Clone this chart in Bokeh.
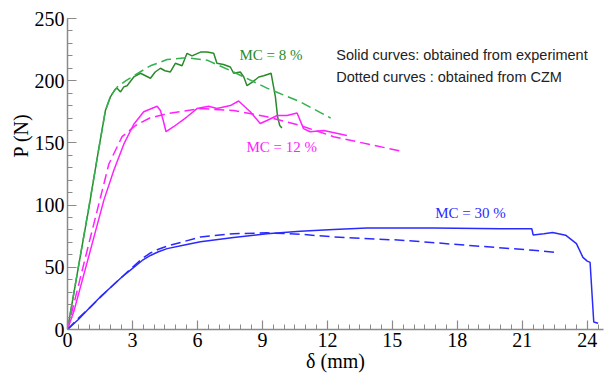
from bokeh.plotting import figure
from bokeh.models import Range1d, Label, FixedTicker, Title
from bokeh.embed import file_html
from bokeh.resources import INLINE

# MC = 8 % experiment (solid) and CZM (dashed)
g_x = [0, 0.5, 1.0, 1.45, 1.75, 1.98, 2.2, 2.29, 2.45, 2.6, 2.75, 3.06, 3.37, 3.6, 3.83, 4.05, 4.29, 4.5, 4.75, 4.98, 5.29, 5.52, 5.75, 6.14, 6.45, 6.75, 6.9, 7.2, 7.52, 7.67, 7.98, 8.14, 8.29, 8.55, 8.83, 9.06, 9.4, 9.6, 9.7, 9.8, 9.9]
g_y = [0, 50, 99, 146, 176, 187, 193, 194, 191, 195, 196, 203, 206, 204, 202, 207, 210, 208, 207, 214, 212, 222, 220, 223, 223, 222, 214, 213, 211, 206, 207, 203, 196, 199, 203, 204, 206, 187, 171, 164, 162]
gd_x = [0, 1.0, 1.75, 2.0, 2.3, 2.7, 3.06, 3.83, 4.6, 5.52, 6.45, 7.67, 9.21, 10.75, 12.15]
gd_y = [0, 100, 176, 188, 195, 200, 204, 212, 217, 218.5, 216.5, 207, 194, 183, 170]

# MC = 12 %
m_x = [0, 0.3, 1.0, 1.68, 2.14, 2.6, 3.06, 3.52, 3.8, 4.14, 4.29, 4.42, 4.55, 4.9, 5.52, 5.98, 6.52, 6.9, 7.52, 7.9, 8.44, 8.9, 9.21, 9.68, 10.14, 10.6, 10.9, 11.2, 11.83, 12.9]
m_y = [0, 15, 60, 104, 128, 149, 165, 175, 177, 179.5, 176, 168, 159, 163, 171, 177.6, 179.5, 177.6, 180, 183.7, 175, 165.6, 168, 172, 172, 174, 161.5, 159, 160, 156]
md_x = [0, 1.0, 1.91, 2.52, 3.14, 3.8, 4.6, 6.14, 7.67, 9.21, 10.75, 12.29, 15.5]
md_y = [0, 70, 133, 155, 164, 170, 173.6, 177.6, 176, 171, 164, 155, 143]

# MC = 30 %
b_x = [0, 0.5, 1.0, 1.5, 2.0, 2.5, 3.06, 3.45, 3.83, 4.2, 4.6, 5.4, 6.14, 7.67, 9.21, 10.75, 12.29, 13.83, 16.9, 20, 21.44, 21.5, 22.0, 22.4, 23.0, 23.5, 23.8, 24.0, 24.13, 24.3, 24.5]
b_y = [0, 8, 17, 26, 34, 42, 50, 55.5, 59.5, 62.5, 65, 68, 70.5, 74, 77, 79, 80.4, 81.5, 81.5, 81, 81, 76, 77, 78, 75.8, 69, 58, 55, 54, 6, 5]
bd_x = [0, 0.5, 1.0, 2.0, 3.0, 3.45, 3.83, 4.2, 4.6, 6.14, 7.67, 9.21, 10.75, 12.29, 15.4, 18.4, 21.5, 22.6]
bd_y = [0, 9, 17, 34, 50, 57, 61.5, 64.5, 67, 74.4, 77, 77.7, 76.6, 74.4, 71.8, 67.8, 63.7, 61.9]

x_ticks = [0, 3, 6, 9, 12, 15, 18, 21, 24]
y_ticks = [0, 50, 100, 150, 200, 250]

serif = "Liberation Serif"
sans = "Liberation Sans"

p = figure(width=606, height=375, output_backend="svg", toolbar_location=None,
           x_range=Range1d(0, 24.75), y_range=Range1d(0, 250),
           min_border_left=67, min_border_right=3, min_border_top=18, min_border_bottom=46)
p.outline_line_color = None
p.xgrid.visible = False
p.ygrid.visible = False
p.background_fill_color = "white"
p.border_fill_color = "white"

p.xaxis.ticker = FixedTicker(ticks=x_ticks, minor_ticks=[i * 0.5 for i in range(0, 50)])
p.yaxis.ticker = FixedTicker(ticks=y_ticks, minor_ticks=[i * 10 for i in range(0, 26)])
for ax in (p.xaxis[0], p.yaxis[0]):
    ax.axis_line_color = "#8a8a8a"
    ax.axis_line_width = 1.5
    ax.major_tick_line_color = "#8a8a8a"
    ax.minor_tick_line_color = "#8a8a8a"
    ax.major_tick_line_width = 1.2
    ax.minor_tick_line_width = 1.0
    ax.major_tick_in = 9
    ax.major_tick_out = 0
    ax.minor_tick_in = 5
    ax.minor_tick_out = 0
    ax.major_label_text_font = serif
    ax.major_label_text_font_size = "20px"
    ax.major_label_text_color = "black"
    ax.major_label_standoff = 3

p.xaxis.axis_label = "\u03b4 (mm)"
p.xaxis.axis_label_text_font = serif
p.xaxis.axis_label_text_font_size = "20px"
p.xaxis.axis_label_text_font_style = "normal"
p.xaxis.axis_label_text_color = "black"
p.xaxis.axis_label_standoff = 0

p.add_layout(Title(text="P (N)", align="left", offset=172, standoff=0,
                   text_font=serif, text_font_size="20px", text_font_style="normal",
                   text_color="black"), "left")

p.line(g_x, g_y, line_color="#2a8a2a", line_width=1.5)
p.line(gd_x, gd_y, line_color="#33b050", line_width=1.5, line_dash="10 5")
p.line(m_x, m_y, line_color="#ff22ff", line_width=1.5)
p.line(md_x, md_y, line_color="#ff22ff", line_width=1.5, line_dash="10 5")
p.line(b_x, b_y, line_color="#2a2aff", line_width=1.5)
p.line(bd_x, bd_y, line_color="#2a2aff", line_width=1.5, line_dash="10 5")

p.add_layout(Label(x=7.94, y=220.5, text="MC = 8 %", text_font=serif, text_font_size="15px",
                   text_color="#2a8a2a", text_baseline="middle"))
p.add_layout(Label(x=8.26, y=146.5, text="MC = 12 %", text_font=serif, text_font_size="15px",
                   text_color="#ff22ff", text_baseline="middle"))
p.add_layout(Label(x=16.98, y=93.5, text="MC = 30 %", text_font=serif, text_font_size="15px",
                   text_color="#2a2aff", text_baseline="middle"))
p.add_layout(Label(x=12.41, y=220.5, text="Solid curves: obtained from experiment", text_font=sans,
                   text_font_size="14.5px", text_color="#222222", text_baseline="middle"))
p.add_layout(Label(x=12.41, y=202.8, text="Dotted curves : obtained from CZM", text_font=sans,
                   text_font_size="14.5px", text_color="#222222", text_baseline="middle"))

open("out.html", "w").write(file_html(p, INLINE))
